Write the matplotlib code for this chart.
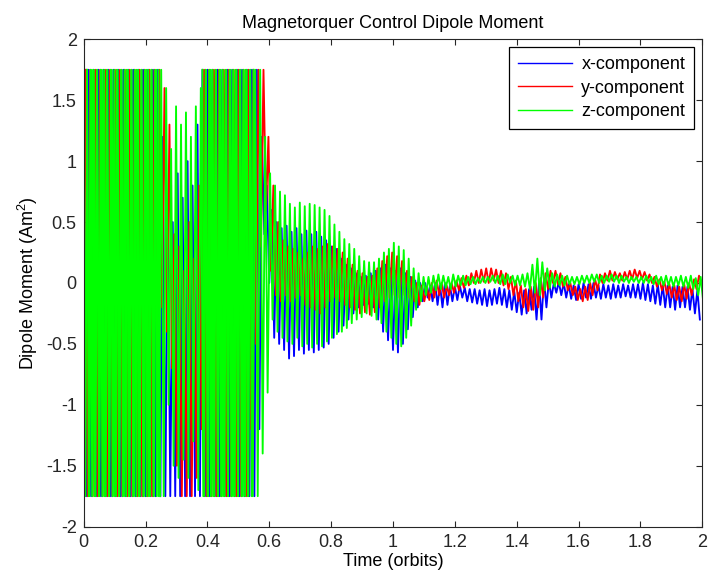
import matplotlib
matplotlib.use("Agg")
import matplotlib.pyplot as plt
import numpy as np
from matplotlib.ticker import FormatStrFormatter

plt.rcParams["font.family"] = ["Liberation Sans", "DejaVu Sans"]
plt.rcParams["mathtext.fontset"] = "custom"
plt.rcParams["mathtext.rm"] = "Liberation Sans"

# one oscillation cycle every 0.016 orbits; peak then trough of each cycle
# (actuator saturates at +/-1.75 Am^2)
cycle = 0.016
sat = 1.75

x_hi = ([sat] * 16
        + [1.2, 0.6, 0.5, 0.9, 0.7, 1.0, 0.8, 1.3]
        + [sat] * 12
        + [1.2]
        + [0.8, 0.6, 0.5, 0.45, 0.47, 0.42, 0.45, 0.4,
           0.43, 0.4, 0.42, 0.38, 0.35, 0.3, 0.28, 0.2,
           0.15, 0.12, 0.08, 0.05, 0.06, 0.08, 0.1, 0.12,
           0.15, 0.12, 0.1, 0.12, 0.08, 0.05, 0.02, 0.0,
           0.0, -0.02, 0.0, -0.02, 0.0, -0.02, -0.03, -0.02,
           -0.04, -0.05, -0.05, -0.06, -0.05, -0.06, -0.05, -0.04,
           -0.05, -0.06, -0.07, -0.08, -0.06, -0.05, -0.03, 0.0,
           0.03, 0.02, 0.0, 0.01, 0.0, -0.01, -0.02, -0.01,
           0.0, -0.01, 0.0, -0.02, -0.01, -0.02, -0.01, -0.02,
           -0.01, -0.02, -0.01, -0.01, 0.0, -0.01, -0.02, -0.01,
           -0.02, -0.02, -0.03, -0.02, -0.03, -0.03, -0.05, -0.06])
x_lo = ([-sat] * 35
        + [-1.2, 0.4]
        + [0.0, -0.45, -0.5, -0.55, -0.62, -0.6, -0.55, -0.58,
           -0.55, -0.57, -0.55, -0.53, -0.5, -0.45, -0.4, -0.35,
           -0.3, -0.25, -0.2, -0.18, -0.17, -0.2, -0.3, -0.4,
           -0.47, -0.55, -0.57, -0.5, -0.38, -0.28, -0.2, -0.15,
           -0.12, -0.15, -0.18, -0.2, -0.18, -0.15, -0.14, -0.12,
           -0.15, -0.16, -0.17, -0.18, -0.19, -0.18, -0.17, -0.18,
           -0.2, -0.22, -0.24, -0.26, -0.25, -0.22, -0.3, -0.3,
           -0.2, -0.12, -0.08, -0.1, -0.12, -0.13, -0.14, -0.13,
           -0.12, -0.13, -0.12, -0.13, -0.12, -0.13, -0.12, -0.12,
           -0.11, -0.12, -0.12, -0.13, -0.14, -0.15, -0.17, -0.18,
           -0.2, -0.2, -0.22, -0.2, -0.2, -0.22, -0.25, -0.3])

y_hi = ([sat] * 16
        + [1.6, 1.3, 0.4, 0.3, 0.1, 0.5, 0.2, 0.8]
        + [sat] * 13
        + [1.2, 0.8, 0.5, 0.35, 0.3, 0.28, 0.25, 0.2,
           0.25, 0.3, 0.28, 0.3, 0.32, 0.3, 0.28, 0.25,
           0.2, 0.15, 0.1, 0.08, 0.05, 0.06, 0.12, 0.18,
           0.22, 0.25, 0.22, 0.18, 0.1, 0.05, 0.0, -0.02,
           -0.03, 0.0, 0.02, 0.0, -0.02, 0.0, 0.02, 0.04,
           0.06, 0.08, 0.1, 0.11, 0.12, 0.12, 0.11, 0.1,
           0.08, 0.05, 0.02, -0.02, -0.05, -0.03, 0.0, 0.04,
           0.08, 0.1, 0.1, 0.08, 0.05, 0.0, -0.03, -0.05,
           -0.03, 0.0, 0.03, 0.07, 0.08, 0.1, 0.09, 0.08,
           0.09, 0.1, 0.11, 0.1, 0.09, 0.07, 0.05, 0.03,
           0.01, -0.01, -0.02, -0.03, -0.01, 0.0, 0.03, 0.06])
y_lo = ([-sat] * 14
        + [-0.3, -0.2, -0.4, -0.7, -1.5, -1.75, -1.75, -1.75, -1.6, -1.2]
        + [-sat] * 8
        + [-1.75, -1.2, -0.5, 0.3, 0.6]
        + [0.1, -0.1, -0.15, -0.1, -0.15, -0.12, -0.1, -0.18,
           -0.2, -0.22, -0.25, -0.2, -0.15, -0.12, -0.15, -0.18,
           -0.2, -0.22, -0.25, -0.24, -0.26, -0.24, -0.2, -0.15,
           -0.12, -0.1, -0.12, -0.1, -0.12, -0.15, -0.18, -0.15,
           -0.14, -0.12, -0.1, -0.12, -0.1, -0.08, -0.06, -0.04,
           -0.02, 0.0, 0.0, 0.01, 0.0, 0.02, 0.0, -0.02,
           -0.05, -0.1, -0.15, -0.2, -0.23, -0.22, -0.2, -0.12,
           -0.05, 0.0, -0.01, -0.03, -0.06, -0.1, -0.14, -0.15,
           -0.14, -0.1, -0.06, 0.0, 0.02, 0.02, 0.03, 0.02,
           0.03, 0.03, 0.04, 0.03, 0.02, 0.0, -0.03, -0.06,
           -0.09, -0.12, -0.14, -0.15, -0.13, -0.1, -0.05, 0.0])

z_hi = ([sat] * 16
        + [1.6, 1.1, 1.45, 1.3, 1.4, 1.2, 1.45, 1.6]
        + [sat] * 12
        + [1.2]
        + [0.9, 0.8, 0.75, 0.72, 0.65, 0.62, 0.66, 0.63,
           0.65, 0.64, 0.62, 0.6, 0.55, 0.48, 0.42, 0.36,
           0.32, 0.28, 0.22, 0.18, 0.17, 0.17, 0.2, 0.25,
           0.28, 0.33, 0.3, 0.27, 0.2, 0.12, 0.08, 0.05,
           0.05, 0.06, 0.07, 0.06, 0.05, 0.07, 0.06, 0.06,
           0.05, 0.05, 0.04, 0.05, 0.05, 0.06, 0.06, 0.07,
           0.07, 0.06, 0.06, 0.07, 0.08, 0.15, 0.2, 0.17,
           0.12, 0.08, 0.07, 0.06, 0.06, 0.05, 0.05, 0.06,
           0.06, 0.07, 0.07, 0.06, 0.06, 0.07, 0.06, 0.06,
           0.05, 0.05, 0.05, 0.05, 0.06, 0.05, 0.06, 0.05,
           0.06, 0.05, 0.05, 0.06, 0.05, 0.06, 0.04, 0.05])
z_lo = ([-sat] * 16
        + [-1.0, -1.5, -1.6, -1.45, -1.6, -1.3, -1.7, -1.75]
        + [-sat] * 11
        + [-1.4, -0.9]
        + [-0.3, -0.4, -0.45, -0.48, -0.5, -0.45, -0.52, -0.5,
           -0.53, -0.5, -0.52, -0.48, -0.45, -0.42, -0.4, -0.37,
           -0.33, -0.3, -0.28, -0.25, -0.27, -0.3, -0.33, -0.4,
           -0.45, -0.5, -0.52, -0.45, -0.35, -0.22, -0.15, -0.1,
           -0.08, -0.06, -0.05, -0.04, -0.05, -0.03, -0.02, -0.02,
           -0.01, -0.01, 0.0, 0.0, 0.01, 0.0, -0.01, -0.01,
           0.0, -0.02, -0.02, -0.03, -0.05, -0.08, -0.1, -0.06,
           -0.04, -0.03, -0.02, -0.02, -0.01, -0.01, -0.01, 0.0,
           0.0, 0.01, 0.0, 0.0, 0.01, 0.01, 0.0, 0.01,
           0.0, 0.01, 0.0, 0.0, 0.0, -0.01, -0.01, -0.02,
           -0.02, -0.03, -0.02, -0.03, -0.04, -0.05, -0.1, -0.15])

# spans (orbits) where z chatters between the limits faster than the cycle above
z_chatter = [(0.0, 0.25), (0.384, 0.554)]
chatter_step = 0.0055

labels = ["x-component", "y-component", "z-component"]
colors = ["#0000ff", "#ff0000", "#00ff00"]
phases = [0.0, 0.0053, 0.0107]


def zigzag(hi, lo, phase):
    hi, lo = np.asarray(hi), np.asarray(lo)
    assert len(hi) == len(lo) == 125
    t = np.arange(len(hi)) * cycle + phase
    tt = np.empty(2 * len(hi)); vv = np.empty(2 * len(hi))
    tt[0::2], tt[1::2] = t, t + cycle / 2
    vv[0::2], vv[1::2] = hi, lo
    return tt, vv


fig = plt.figure(figsize=(7.09, 5.80), dpi=100)
ax = fig.add_axes([0.118, 0.092, 0.8726, 0.8402])

for (hi, lo), c, lab, ph in zip([(x_hi, x_lo), (y_hi, y_lo), (z_hi, z_lo)], colors, labels, phases):
    tt, vv = zigzag(hi, lo, ph)
    ax.plot(tt, vv, color=c, lw=1.35, label=lab)

for a, b in z_chatter:
    tc = np.arange(a, b, chatter_step)
    ax.plot(tc, np.resize([sat, -sat], len(tc)), color=colors[2], lw=1.35)

ax.set_xlim(0, 2); ax.set_ylim(-2, 2)
ax.set_xticks(np.arange(0, 2.01, 0.2)); ax.set_yticks(np.arange(-2, 2.01, 0.5))
ax.xaxis.set_major_formatter(FormatStrFormatter("%g"))
ax.yaxis.set_major_formatter(FormatStrFormatter("%g"))
ax.tick_params(direction="in", top=True, right=True, length=4, width=0.8,
               labelsize=13, colors="#262626", pad=5)
for s in ax.spines.values():
    s.set_color("#262626"); s.set_linewidth(0.8)

ax.set_title("Magnetorquer Control Dipole Moment", fontsize=13, pad=8)
ax.set_xlabel("Time (orbits)", fontsize=13, labelpad=2)
ax.set_ylabel("Dipole Moment (Am$^2$)", fontsize=13, labelpad=4)

leg = ax.legend(loc="upper right", fontsize=13, handlelength=3.0, fancybox=False,
                framealpha=1, edgecolor="black", borderaxespad=0.45, labelspacing=0.35,
                handletextpad=0.5, borderpad=0.5)
leg.get_frame().set_linewidth(0.9)
for line in leg.get_lines():
    line.set_linewidth(1.0)

fig.savefig("out.png", dpi=100)
